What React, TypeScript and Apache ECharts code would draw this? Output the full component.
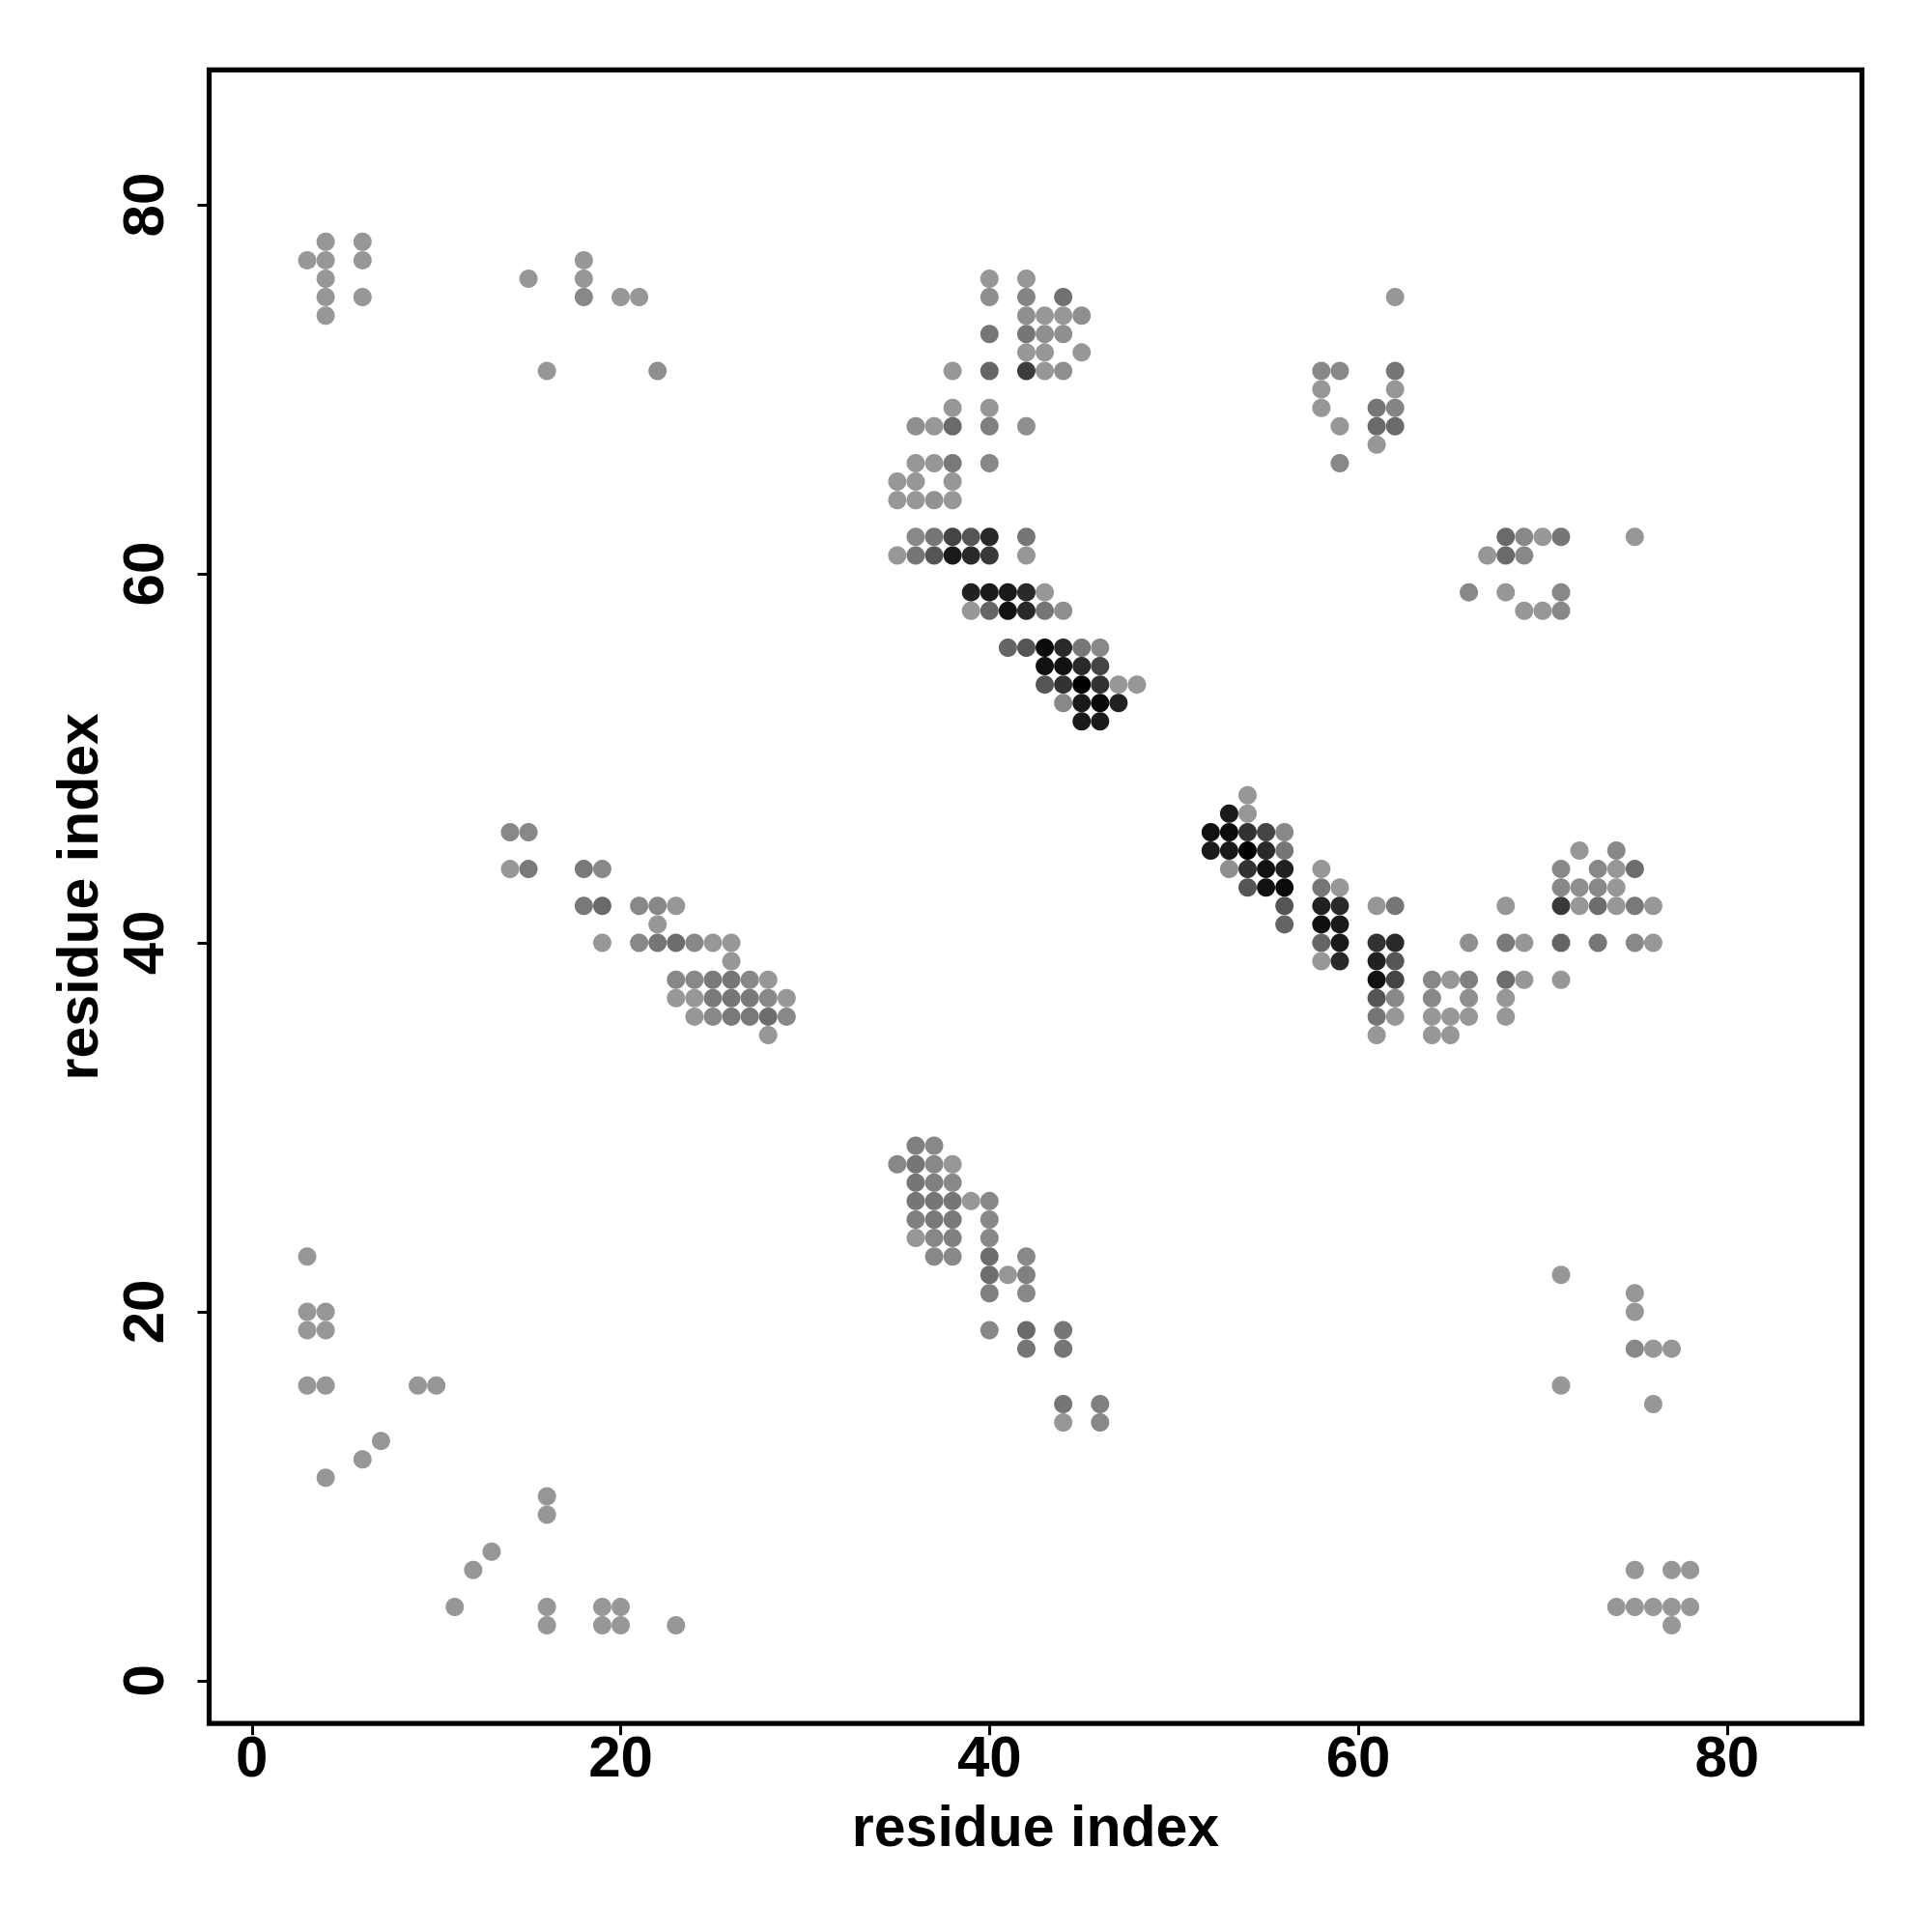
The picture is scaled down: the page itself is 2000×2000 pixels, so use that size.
import React, { useEffect, useRef } from "react";
import * as echarts from "echarts";

// Each contact: [residue i, residue j, contact strength 0..1]
const topLeftContacts = [
  [3, 77, 0], [4, 78, 0], [4, 77, 0], [4, 76, 0], [4, 75, 0], [4, 74, 0],
  [6, 78, 0], [6, 77, 0], [6, 75, 0], [15, 76, 0], [16, 71, 0],
  [18, 77, 0], [18, 76, 0], [18, 75, 0.1], [20, 75, 0], [21, 75, 0], [22, 71, 0.05],
];

const upperMiddleContacts = [
  [40, 76, 0], [42, 76, 0],
  [40, 75, 0.05], [42, 75, 0.12], [44, 75, 0.25],
  [42, 74, 0.05], [43, 74, 0], [44, 74, 0], [45, 74, 0.05],
  [40, 73, 0.22], [42, 73, 0.22], [43, 73, 0.05], [44, 73, 0.05],
  [42, 72, 0], [43, 72, 0], [45, 72, 0],
  [38, 71, 0], [40, 71, 0.33], [42, 71, 0.6], [43, 71, 0], [44, 71, 0.05],
  [38, 69, 0], [40, 69, 0],
  [36, 68, 0.05], [37, 68, 0], [38, 68, 0.3], [40, 68, 0.15], [42, 68, 0.05],
  [36, 66, 0], [37, 66, 0], [38, 66, 0.2], [40, 66, 0.1],
  [35, 65, 0], [36, 65, 0], [38, 65, 0],
  [35, 64, 0], [36, 64, 0], [37, 64, 0.03], [38, 64, 0],
];

const helixCoreContacts = [
  [36, 62, 0.1], [37, 62, 0.22], [38, 62, 0.55], [39, 62, 0.44], [40, 62, 0.73], [42, 62, 0.22],
  [35, 61, 0], [36, 61, 0.22], [37, 61, 0.44], [38, 61, 0.83], [39, 61, 0.73], [40, 61, 0.62], [42, 61, 0],
  [39, 59, 0.78], [40, 59, 0.83], [41, 59, 0.83], [42, 59, 0.73], [43, 59, 0],
  [39, 58, 0], [40, 58, 0.33], [41, 58, 0.89], [42, 58, 0.73], [43, 58, 0.22], [44, 58, 0.05],
  [41, 56, 0.33], [42, 56, 0.44], [43, 56, 0.93], [44, 56, 0.73], [45, 56, 0.22], [46, 56, 0.1],
  [43, 55, 0.89], [44, 55, 0.89], [45, 55, 0.73], [46, 55, 0.55],
  [43, 54, 0.44], [44, 54, 0.67], [45, 54, 1], [46, 54, 0.67], [47, 54, 0], [48, 54, 0],
  [44, 53, 0.1], [45, 53, 0.83], [46, 53, 0.95], [47, 53, 0.78],
  [45, 52, 0.83], [46, 52, 0.83],
];

const topRightContacts = [
  [62, 75, 0],
  [58, 71, 0.1], [59, 71, 0.1], [62, 71, 0.22],
  [58, 70, 0], [62, 70, 0],
  [58, 69, 0], [61, 69, 0.22], [62, 69, 0.12],
  [59, 68, 0], [61, 68, 0.3], [62, 68, 0.3],
  [61, 67, 0], [59, 66, 0.1],
  [68, 62, 0.3], [69, 62, 0.1], [70, 62, 0], [71, 62, 0.22], [75, 62, 0],
  [67, 61, 0], [68, 61, 0.3], [69, 61, 0.1],
  [66, 59, 0.1], [68, 59, 0], [71, 59, 0.1],
  [69, 58, 0], [70, 58, 0], [71, 58, 0.1],
];

const middleLeftContacts = [
  [14, 46, 0.1], [15, 46, 0.1],
  [14, 44, 0], [15, 44, 0.2], [18, 44, 0.2], [19, 44, 0.1],
  [18, 42, 0.2], [19, 42, 0.3], [21, 42, 0.1], [22, 42, 0.1], [23, 42, 0],
  [22, 41, 0],
  [19, 40, 0], [21, 40, 0.1], [22, 40, 0.22], [23, 40, 0.28], [24, 40, 0.1], [25, 40, 0], [26, 40, 0],
  [26, 39, 0],
  [23, 38, 0.1], [24, 38, 0.1], [25, 38, 0.2], [26, 38, 0.22], [27, 38, 0.1], [28, 38, 0],
  [23, 37, 0], [24, 37, 0], [25, 37, 0.2], [26, 37, 0.22], [27, 37, 0.2], [28, 37, 0.1], [29, 37, 0],
  [24, 36, 0], [25, 36, 0.1], [26, 36, 0.2], [27, 36, 0.2], [28, 36, 0.28], [29, 36, 0.1],
  [28, 35, 0],
];

const middleRightCoreContacts = [
  [54, 48, 0],
  [53, 47, 0.83], [54, 47, 0],
  [52, 46, 0.89], [53, 46, 0.93], [54, 46, 0.67], [55, 46, 0.55], [56, 46, 0.1],
  [52, 45, 0.83], [53, 45, 0.83], [54, 45, 1], [55, 45, 0.73], [56, 45, 0.22],
  [53, 44, 0.05], [54, 44, 0.67], [55, 44, 0.89], [56, 44, 0.78], [58, 44, 0],
  [54, 43, 0.44], [55, 43, 0.89], [56, 43, 0.93], [58, 43, 0.22], [59, 43, 0],
  [56, 42, 0.44], [58, 42, 0.78], [59, 42, 0.73], [61, 42, 0], [62, 42, 0.22],
  [56, 41, 0.33], [58, 41, 0.9], [59, 41, 0.83],
  [58, 40, 0.33], [59, 40, 0.83], [61, 40, 0.67], [62, 40, 0.73],
  [58, 39, 0], [59, 39, 0.73], [61, 39, 0.78], [62, 39, 0.44],
  [61, 38, 0.89], [62, 38, 0.55],
  [61, 37, 0.44], [62, 37, 0.1],
  [61, 36, 0.22], [62, 36, 0],
  [61, 35, 0],
];

const middleRightOuterContacts = [
  [72, 45, 0], [74, 45, 0.1],
  [71, 44, 0.1], [73, 44, 0.1], [74, 44, 0], [75, 44, 0.28],
  [71, 43, 0.1], [72, 43, 0.05], [73, 43, 0.1], [74, 43, 0],
  [68, 42, 0], [71, 42, 0.62], [72, 42, 0], [73, 42, 0.28], [74, 42, 0], [75, 42, 0.2], [76, 42, 0],
  [66, 40, 0.05], [68, 40, 0.2], [69, 40, 0], [71, 40, 0.33], [73, 40, 0.22], [75, 40, 0.1], [76, 40, 0],
  [64, 38, 0.1], [65, 38, 0], [66, 38, 0.15], [68, 38, 0.28], [69, 38, 0], [71, 38, 0],
  [64, 37, 0.1], [66, 37, 0.05], [68, 37, 0],
  [64, 36, 0], [65, 36, 0], [66, 36, 0], [68, 36, 0],
  [64, 35, 0], [65, 35, 0],
];

const lowerMiddleContacts = [
  [36, 29, 0.15], [37, 29, 0.1],
  [35, 28, 0.1], [36, 28, 0.22], [37, 28, 0.1], [38, 28, 0],
  [36, 27, 0.22], [37, 27, 0.15], [38, 27, 0.1],
  [36, 26, 0.22], [37, 26, 0.22], [38, 26, 0.22], [39, 26, 0], [40, 26, 0.1],
  [36, 25, 0.15], [37, 25, 0.2], [38, 25, 0.2], [40, 25, 0.1],
  [36, 24, 0], [37, 24, 0.1], [38, 24, 0.15], [40, 24, 0.1],
  [37, 23, 0.1], [38, 23, 0.1], [40, 23, 0.28], [42, 23, 0.1],
  [40, 22, 0.28], [41, 22, 0], [42, 22, 0.15],
  [40, 21, 0.15], [42, 21, 0.1],
  [40, 19, 0.1], [42, 19, 0.3], [44, 19, 0.22],
  [42, 18, 0.22], [44, 18, 0.22],
  [44, 15, 0.22], [46, 15, 0.15],
  [44, 14, 0], [46, 14, 0.1],
];

const bottomLeftContacts = [
  [3, 23, 0], [3, 20, 0], [4, 20, 0], [3, 19, 0], [4, 19, 0],
  [3, 16, 0], [4, 16, 0], [9, 16, 0], [10, 16, 0],
  [7, 13, 0], [6, 12, 0], [4, 11, 0], [16, 10, 0], [16, 9, 0],
  [13, 7, 0], [12, 6, 0], [11, 4, 0], [16, 4, 0], [16, 3, 0],
  [19, 4, 0], [20, 4, 0], [19, 3, 0], [20, 3, 0], [23, 3, 0],
];

const bottomRightContacts = [
  [71, 22, 0], [75, 21, 0], [75, 20, 0], [75, 18, 0.1], [76, 18, 0], [77, 18, 0],
  [71, 16, 0], [76, 15, 0],
  [75, 6, 0], [77, 6, 0], [78, 6, 0],
  [74, 4, 0], [75, 4, 0], [76, 4, 0], [77, 4, 0], [78, 4, 0], [77, 3, 0],
];

const tickValues = [0, 20, 40, 60, 80];
const axisMin = -2.32;
const axisMax = 87.32;
const axisTitle = "residue index";

const allContacts = [
  ...topLeftContacts,
  ...upperMiddleContacts,
  ...helixCoreContacts,
  ...topRightContacts,
  ...middleLeftContacts,
  ...middleRightCoreContacts,
  ...middleRightOuterContacts,
  ...lowerMiddleContacts,
  ...bottomLeftContacts,
  ...bottomRightContacts,
];

export default function App() {
  const ref = useRef<HTMLDivElement>(null);
  useEffect(() => {
    const chart = echarts.init(ref.current!, null, { renderer: "svg" });
    const font = "'Liberation Sans', Arial, Helvetica, sans-serif";
    const labelStyle = {
      fontFamily: font,
      fontWeight: "bold" as const,
      fontSize: 60,
      lineHeight: 60,
      color: "#000",
    };
    chart.setOption({
      animation: false,
      backgroundColor: "#ffffff",
      grid: {
        left: 216.5,
        right: 72.5,
        top: 72.3,
        bottom: 215.8,
        show: true,
        borderColor: "#000",
        borderWidth: 5.2,
        backgroundColor: "transparent",
      },
      xAxis: {
        type: "value",
        min: axisMin,
        max: axisMax,
        name: axisTitle,
        nameLocation: "middle",
        nameGap: 77,
        nameTextStyle: { ...labelStyle, fontSize: 59 },
        axisLine: { show: false, onZero: false },
        axisTick: {
          show: true,
          customValues: tickValues,
          length: 12,
          lineStyle: { color: "#000", width: 3 },
        },
        axisLabel: { ...labelStyle, customValues: tickValues, margin: 4 },
        splitLine: { show: false },
      },
      yAxis: {
        type: "value",
        min: axisMin,
        max: axisMax,
        name: axisTitle,
        nameLocation: "middle",
        nameGap: 105,
        nameTextStyle: { ...labelStyle, fontSize: 59 },
        axisLine: { show: false, onZero: false },
        axisTick: {
          show: true,
          customValues: tickValues,
          length: 12,
          lineStyle: { color: "#000", width: 3 },
        },
        axisLabel: { ...labelStyle, customValues: tickValues, margin: 38, rotate: 90 },
        splitLine: { show: false },
      },
      visualMap: {
        show: false,
        type: "continuous",
        dimension: 2,
        min: 0,
        max: 1,
        inRange: { color: ["#979797", "#000000"] },
      },
      series: [
        {
          type: "scatter",
          data: allContacts,
          symbol: "circle",
          symbolSize: 19,
          itemStyle: { opacity: 1 },
        },
      ],
    });
    return () => chart.dispose();
  }, []);
  return (
    <div
      ref={ref}
      style={{ position: "absolute", left: 0, top: 0, width: 2000, height: 2000 }}
    />
  );
}
